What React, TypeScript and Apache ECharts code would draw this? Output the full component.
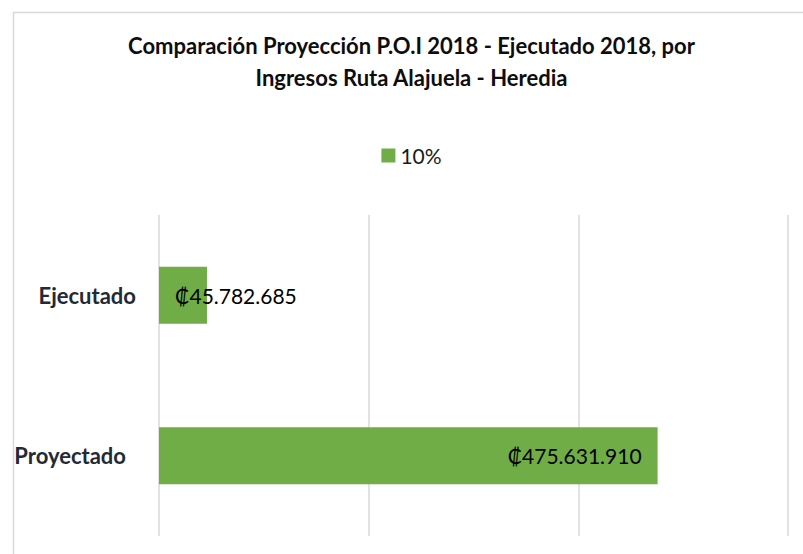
import React, { useEffect, useRef } from "react";
import * as echarts from "echarts";

const titleLines = [
  "Comparación Proyección P.O.I 2018 - Ejecutado 2018, por",
  "Ingresos Ruta Alajuela - Heredia",
];
const seriesName = "10%";
const categories = ["Proyectado", "Ejecutado"];
const values = [475631910, 45782685];
const axisMax = 600000000;
const axisInterval = 200000000;

const GREEN = "#70AD47";
const FONT = "Lato, 'DejaVu Sans', sans-serif";

function fmt(v: number): string {
  const s = Math.round(v).toString().replace(/\B(?=(\d{3})+(?!\d))/g, ".");
  return "₡" + s;
}

export default function App() {
  const ref = useRef<HTMLDivElement>(null);
  useEffect(() => {
    if (!ref.current) return;
    const chart = echarts.init(ref.current, null, { renderer: "svg" });
    chart.setOption({
      animation: false,
      backgroundColor: "#ffffff",
      textStyle: { fontFamily: FONT },
      title: {
        text: titleLines.join("\n"),
        left: "center",
        top: 24,
        textStyle: {
          fontFamily: FONT,
          fontSize: 22,
          fontWeight: "bold",
          color: "#0d0d0d",
          lineHeight: 32,
        },
      },
      legend: {
        data: [seriesName],
        left: "center",
        top: 140,
        icon: "rect",
        itemWidth: 14,
        itemHeight: 14,
        itemGap: 8,
        textStyle: { fontFamily: FONT, fontSize: 21, color: "#1a1a1a" },
      },
      graphic: [
        {
          type: "rect",
          left: 11,
          top: 10,
          shape: { x: 0, y: 0, width: 900, height: 700 },
          style: { fill: "none", stroke: "#D9D9D9", lineWidth: 1.5 },
          silent: true,
        },
      ],
      grid: { left: 159, right: 35, top: 215, bottom: 18, containLabel: false },
      xAxis: {
        type: "value",
        min: 0,
        max: axisMax,
        interval: axisInterval,
        axisLabel: { show: false },
        axisLine: { show: false },
        axisTick: { show: false },
        splitLine: { show: true, lineStyle: { color: "#D9D9D9", width: 1.5 } },
      },
      yAxis: {
        type: "category",
        data: categories,
        axisLine: { show: false },
        axisTick: { show: false },
        axisLabel: {
          margin: 23,
          formatter: (v: string) => (v === "Proyectado" ? "{p|" + v + "}" : "{e|" + v + "}"),
          rich: {
            p: { fontFamily: FONT, fontSize: 22, fontWeight: "bold", color: "#222A35", padding: [0, 10, 0, 0] },
            e: { fontFamily: FONT, fontSize: 22, fontWeight: "bold", color: "#222A35" },
          },
        },
      },
      series: [
        {
          name: seriesName,
          type: "bar",
          barCategoryGap: "64.6%",
          itemStyle: { color: GREEN },
          data: values.map((v, i) => ({
            value: v,
            label:
              i === 0
                ? { show: true, position: "insideRight", distance: 16 }
                : { show: true, position: [16, "50%"], align: "left", verticalAlign: "middle" },
          })),
          label: {
            show: true,
            fontFamily: FONT,
            fontSize: 21,
            color: "#000000",
            formatter: (p: any) => fmt(p.value),
          },
        },
      ],
    });
    return () => chart.dispose();
  }, []);
  return (
    <div
      ref={ref}
      style={{ position: "fixed", left: 0, top: 0, width: 823, height: 554 }}
    />
  );
}
